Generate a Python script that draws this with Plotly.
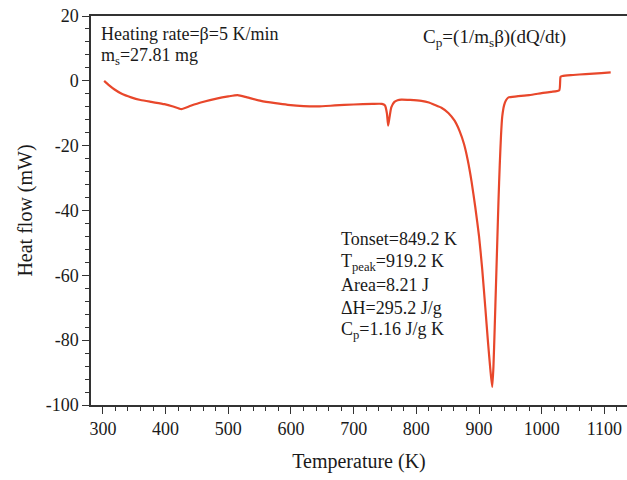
import plotly.graph_objects as go

# Temperature (K) and heat flow (mW)
temperature = [302, 310, 318, 330, 345, 360, 377, 398, 412, 425, 440, 456, 483, 500, 515, 530, 552, 575, 595, 620,
               643, 670, 700, 730, 745, 750, 753, 755, 757, 760, 765, 770, 776, 790, 808, 820, 829, 840, 851, 861,
               869, 876, 882, 888, 894, 900, 905, 910, 914, 918, 921, 923, 925, 927, 929, 931, 933, 935, 937, 940,
               943, 947, 960, 980, 1000, 1015, 1028, 1030, 1033, 1050, 1070, 1095, 1110]
heat_flow = [0.0, -1.4, -2.6, -4.0, -5.1, -5.9, -6.5, -7.2, -7.9, -8.7, -7.7, -6.7, -5.4, -4.8, -4.4, -5.1, -6.2, -6.9, -7.4, -7.8,
             -7.9, -7.6, -7.3, -7.1, -7.1, -7.6, -10.0, -13.8, -11.5, -8.2, -6.5, -6.0, -5.8, -5.9, -6.2, -6.7, -7.4, -8.3, -9.9, -12.3,
             -15.5, -19.5, -24.5, -31.0, -39.0, -48.0, -58.0, -70.0, -80.0, -89.0, -94.4, -88.0, -76.0, -63.0, -50.0, -37.0, -26.0, -17.0, -11.0, -7.5,
             -6.0, -5.1, -4.8, -4.4, -3.8, -3.4, -2.9, 1.2, 1.5, 1.8, 2.1, 2.4, 2.6]

x_ticks = [300, 400, 500, 600, 700, 800, 900, 1000, 1100]
y_ticks = [20, 0, -20, -40, -60, -80, -100]

serif = "Liberation Serif, Times New Roman, serif"
ink = "#1a1a1a"

fig = go.Figure()
fig.add_trace(go.Scatter(x=temperature, y=heat_flow, mode="lines",
                         line=dict(color="#E8472B", width=2.2, shape="spline", smoothing=0.5),
                         hoverinfo="skip", showlegend=False))

fig.update_layout(
    width=627, height=480,
    margin=dict(l=91, r=0, t=16, b=75),
    paper_bgcolor="white", plot_bgcolor="white",
    font=dict(family=serif, size=18, color=ink),
    showlegend=False,
)
fig.update_xaxes(
    range=[281, 1136], tickvals=x_ticks, ticktext=[str(v) for v in x_ticks],
    showgrid=False, zeroline=False,
    showline=True, linecolor="#333", linewidth=1.5, mirror=True,
    ticks="outside", ticklen=7, tickwidth=1.2, tickcolor="#333",
    minor=dict(dtick=20, tick0=300, ticks="outside", ticklen=4, tickcolor="#333", tickwidth=1),
    tickfont=dict(family=serif, size=18, color=ink),
    title=dict(text="Temperature (K)", font=dict(family=serif, size=20, color=ink), standoff=16),
)
fig.update_yaxes(
    range=[-100, 20], tickvals=y_ticks, ticktext=[str(v) for v in y_ticks],
    showgrid=False, zeroline=False,
    showline=True, linecolor="#333", linewidth=1.5,
    ticks="outside", ticklen=7, tickwidth=1.2, tickcolor="#333",
    minor=dict(dtick=4, tick0=0, ticks="outside", ticklen=4, tickcolor="#333", tickwidth=1),
    tickfont=dict(family=serif, size=18, color=ink),
    title=dict(text="Heat flow (mW)", font=dict(family=serif, size=20, color=ink), standoff=8),
)

def note(text, x, y, size=18, anchor="left"):
    fig.add_annotation(text=text, x=x, y=y, xref="paper", yref="paper",
                       xanchor=anchor, yanchor="middle", showarrow=False,
                       font=dict(family=serif, size=size, color=ink), align="left")

pw = 627 - 91
ph = 480 - 16 - 75
def px(xp):
    return (xp - 91) / pw
def py(yp):
    return 1 - (yp - 16) / ph

note("Heating rate=β=5 K/min", px(99), py(34))
note("m<sub>s</sub>=27.81 mg", px(99), py(56))
note("C<sub>p</sub>=(1/m<sub>s</sub>β)(dQ/dt)", px(421), py(38), size=19)

lines = ["Tonset=849.2 K", "T<sub>peak</sub>=919.2 K", "Area=8.21 J", "ΔH=295.2 J/g", "C<sub>p</sub>=1.16 J/g K"]
ys = [239, 262, 285, 308, 330]
for t, yy in zip(lines, ys):
    note(t, px(339), py(yy))

fig.write_html("out.html")
